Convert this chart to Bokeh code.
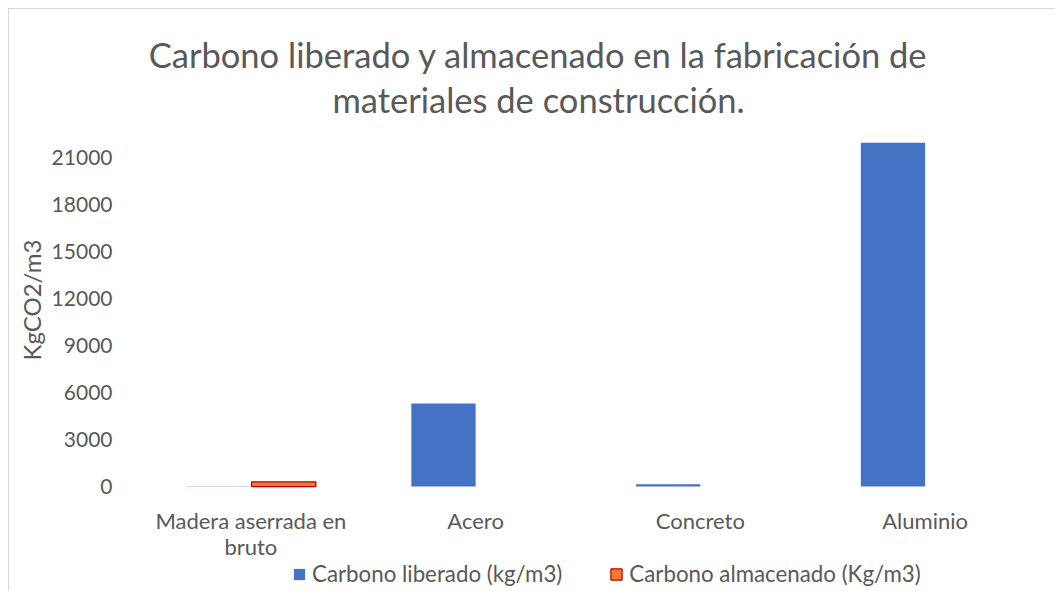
import numpy as np
from bokeh.plotting import figure
from bokeh.models import (ColumnDataSource, Range1d, FixedTicker, LinearAxis,
                          NumeralTickFormatter, Legend, LegendItem)
from bokeh.core.properties import value
from bokeh.embed import file_html
from bokeh.resources import INLINE

# ---- data ----
categories = ["Madera aserrada en bruto", "Acero", "Concreto", "Aluminio"]
tick_line1 = ["Madera aserrada en", "Acero", "Concreto", "Aluminio"]
tick_line2 = ["bruto", "", "", ""]
carbono_liberado = [20, 5300, 150, 21950]
carbono_almacenado = [300, np.nan, np.nan, np.nan]
y_ticks = [0, 3000, 6000, 9000, 12000, 15000, 18000, 21000]
title_lines = ["Carbono liberado y almacenado en la fabricación de",
               "materiales de construcción."]
series_names = ["Carbono liberado (kg/m3)", "Carbono almacenado (Kg/m3)"]
y_label = "KgCO2/m3"

FONT = "Lato"
TXT = "#595959"
W, H = 1055, 591
# layout (pixels): value 22100 at y=140, baseline (0) at y=486.
# The frame spans y=8..591 so title and legend can sit inside it.
FR_L, FR_R, FR_T, FR_B = 138, 1037, 8, 591
BASE, PA_T = 486, 140
upp = 22100 / (BASE - PA_T)          # data units per pixel
y_start = -(FR_B - BASE) * upp
y_end = (BASE - FR_T) * upp

centers = np.arange(len(categories)) + 0.5
source = ColumnDataSource(data=dict(
    cat=categories,
    x_lib=centers - 0.143,
    x_alm=centers + 0.146,
    lib=np.array(carbono_liberado, dtype=float),
    alm=np.array(carbono_almacenado, dtype=float),
))

p = figure(x_range=Range1d(0, len(categories)), y_range=Range1d(y_start, y_end),
           width=W, height=H, output_backend="svg", toolbar_location=None,
           x_axis_type=None,
           min_border_left=FR_L, min_border_right=W - FR_R, min_border_top=FR_T,
           min_border_bottom=0)
p.styles = {"box-shadow": "inset 8px 8px 0 0 #ffffff, inset 9px 9px 0 0 #d9d9d9"}
p.border_fill_color = None
p.background_fill_color = None
p.outline_line_color = None
p.grid.visible = False

# pixel-space ranges for the title text
p.extra_x_ranges = {"px": Range1d(FR_L, FR_R)}
p.extra_y_ranges = {"px": Range1d(FR_B, FR_T)}
p.text(x=[538, 538], y=[54, 99], text=title_lines, x_range_name="px", y_range_name="px",
       text_align="center", text_baseline="alphabetic", text_font=value(FONT),
       text_font_size="34.5px", text_color=TXT)

r1 = p.vbar(x="x_lib", top="lib", width=0.286, source=source,
            fill_color="#4472C4", line_color=None)
r2 = p.vbar(x="x_alm", top="alm", width=0.286, source=source,
            fill_color="#ED7D31", line_color="#C00000", line_width=1.25)

# category axes fixed at the zero line (second axis carries the wrapped line)
l1 = {float(c): s for c, s in zip(centers, tick_line1)}
l2 = {float(c): s for c, s in zip(centers, tick_line2) if s}
xaxis1 = LinearAxis(ticker=FixedTicker(ticks=list(l1.keys())), major_label_overrides=l1,
                    fixed_location=0)
xaxis2 = LinearAxis(ticker=FixedTicker(ticks=list(l2.keys())), major_label_overrides=l2,
                    fixed_location=0)
p.add_layout(xaxis1, "below")
p.add_layout(xaxis2, "below")

p.yaxis.ticker = FixedTicker(ticks=y_ticks)
p.yaxis.formatter = NumeralTickFormatter(format="0")
for ax in (xaxis1, xaxis2, p.yaxis[0]):
    ax.axis_line_color = None
    ax.major_tick_line_color = None
    ax.minor_tick_line_color = None
    ax.major_tick_out = 0
    ax.major_tick_in = 0
    ax.minor_tick_out = 0
    ax.minor_tick_in = 0
    ax.major_label_text_font = FONT
    ax.major_label_text_color = TXT
p.yaxis.major_label_text_font_size = "21px"
xaxis1.major_label_text_font_size = "22px"
xaxis2.major_label_text_font_size = "22px"
p.yaxis.major_label_standoff = 26
xaxis1.major_label_standoff = 20
xaxis2.major_label_standoff = 46
p.yaxis.axis_label = y_label
p.yaxis.axis_label_text_font = FONT
p.yaxis.axis_label_text_font_size = "24px"
p.yaxis.axis_label_text_font_style = "normal"
p.yaxis.axis_label_text_color = TXT
p.yaxis.axis_label_standoff = 3

legend = Legend(items=[LegendItem(label=series_names[0], renderers=[r1]),
                       LegendItem(label=series_names[1], renderers=[r2])],
                orientation="horizontal", location=(154, 4),
                padding=0, margin=0, spacing=47, label_standoff=6,
                glyph_width=14, glyph_height=14,
                border_line_color=None, background_fill_alpha=0,
                label_text_font=FONT, label_text_font_size="22.3px",
                label_text_color=TXT)
p.add_layout(legend)

open("out.html", "w").write(file_html(p, INLINE))
